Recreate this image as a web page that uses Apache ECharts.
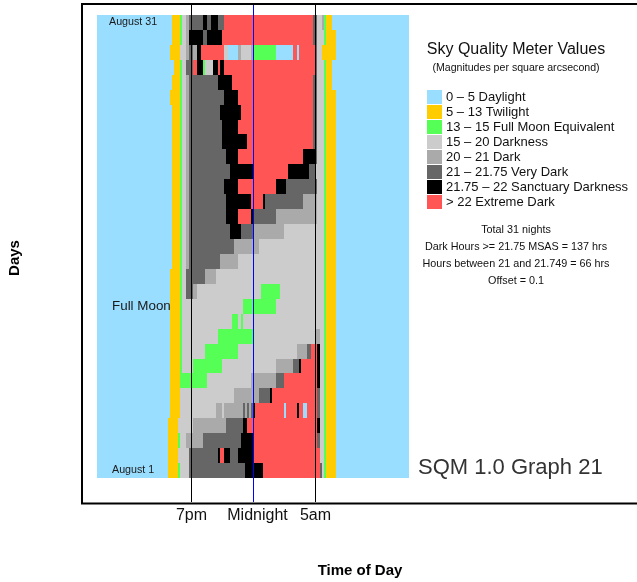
<!DOCTYPE html>
<html><head><meta charset="utf-8">
<script src="https://cdn.jsdelivr.net/npm/echarts@6/dist/echarts.min.js"></script>
<style>html,body{margin:0;padding:0;background:#fff}#c{width:637px;height:582px}</style>
</head><body><div id="c"></div>
<script>
// ---------------- DATA ----------------
// Days, top row first (August 31 at top, August 1 at bottom)
const dayLabels = Array.from({length:31}, (_, i) => 'August ' + (31 - i));
// SQM categories (code letter -> legend text)
const categoryCodes = ['B','Y','G','L','M','D','K','R'];
const categoryNames = ['0 – 5 Daylight','5 – 13 Twilight','13 – 15 Full Moon Equivalent','15 – 20 Darkness','20 – 21 Dark','21 – 21.75 Very Dark','21.75 – 22 Sanctuary Darkness','> 22 Extreme Dark'];
// time axis: 10-minute bins starting at 11:30 (hours, 24 = midnight)
const timeStart = 11.5;
const timeEnd = 36.5;
const binsPerHour = 6;
// each night: runs "code + end bin" (10-minute bins from 11:30)
const nights = [
 "B36 Y40 G41 L43 M44 D51 K53 D55 K58 D61 R104 D106 L108 M109 G110 Y113 B150",
 "B36 Y40 G41 L43 M44 K51 D53 K60 R104 D106 L109 G110 Y115 B150",
 "B35 Y40 L43 M44 D46 M48 K50 R61 L63 B68 M69 L74 M75 G86 B94 R96 B97 R105 D106 L108 Y115 B150",
 "B37 Y40 G41 L43 D46 R48 K51 G52 L56 K58 R59 K61 R105 D106 L109 G110 Y113 B150",
 "B36 Y40 G41 L43 M44 D58 K65 R104 D106 L109 G110 Y113 B150",
 "B35 Y40 G41 L43 M44 D61 K68 R104 D106 L109 G110 Y115 B150",
 "B36 Y40 G41 L43 M44 D59 K69 R104 D106 L109 G110 Y115 B150",
 "B36 Y40 G41 L43 M44 D60 K68 R104 D106 L109 G110 Y115 B150",
 "B36 Y40 G41 L43 M44 D60 K72 R104 D106 L109 G110 Y115 B150",
 "B36 Y40 G41 L43 M44 D62 K68 R99 K105 D106 L109 G110 Y115 B150",
 "B36 Y40 G41 L43 M44 D64 K75 R92 K102 D105 L109 G110 Y115 B150",
 "B36 Y40 G41 L43 M44 D61 K68 R86 K91 D106 L109 G110 Y115 B150",
 "B36 Y40 G41 L43 M44 D62 K74 R80 K81 D99 M106 L109 G110 Y115 B150",
 "B36 Y40 G41 L43 M44 D62 K68 R74 K75 D86 M106 L109 G110 Y115 B150",
 "B36 Y40 G41 L43 M44 D64 K69 D75 M90 L109 G110 Y115 B150",
 "B36 Y40 G41 L43 M44 D66 M78 L109 G110 Y115 B150",
 "B36 Y40 G41 L43 M44 D59 M68 L109 G110 Y115 B150",
 "B35 Y40 G41 L43 D52 M57 L109 G110 Y115 B150",
 "B35 Y40 G41 L43 D46 M48 L79 G88 L109 G110 Y115 B150",
 "B35 Y40 G41 L70 G86 L109 G110 Y115 B150",
 "B35 Y40 G41 L65 G68 L69 G70 L109 G110 Y115 B150",
 "B35 Y40 G41 L58 G75 L105 M107 L109 G110 Y115 B150",
 "B35 Y40 G41 L52 G68 L96 M101 D103 R106 K107 L109 G110 Y115 B150",
 "B35 Y40 G41 L46 G60 L86 M94 D97 K98 R106 K107 L109 G110 Y115 B150",
 "B35 Y40 G53 L74 M86 D90 R106 K107 L109 G110 Y115 B150",
 "B35 Y40 L66 M78 D83 K84 R106 D107 L109 G110 Y115 B150",
 "B35 Y40 L57 M60 L61 M70 D71 M72 D73 M74 D75 K76 R90 B91 R96 K97 R99 B101 R106 D107 L109 G110 Y115 B150",
 "B34 Y39 L46 M62 D70 K72 R106 K107 L109 G110 Y115 B150",
 "B34 Y39 G40 L43 M51 D69 K75 R106 D107 L109 G110 Y115 B150",
 "B34 Y39 L44 D58 K59 R61 K64 D68 K75 R107 L109 G110 Y115 B150",
 "B34 Y39 G40 L44 D71 K80 R107 D108 L109 G110 Y115 B150"
];
const tickHours = [19, 24, 29];
const tickLabels = ['7pm', 'Midnight', '5am'];
const rowNotes = [['August 31', 0], ['Full Moon', 19], ['August 1', 30]];
const statsLines = ['Total 31 nights', 'Dark Hours >= 21.75 MSAS = 137 hrs', 'Hours between 21 and 21.749 = 66 hrs', 'Offset = 0.1'];
const chartTitle = 'SQM 1.0 Graph 21';
const legendTitle = 'Sky Quality Meter Values';
const legendSubtitle = '(Magnitudes per square arcsecond)';

// ---------------- STYLE ----------------
const palette = ['#99DDFF','#FFCC00','#55FF55','#CCCCCC','#AAAAAA','#666666','#000000','#FF5555'];
const FONT = '"Liberation Sans", Arial, Helvetica, sans-serif';

// build segments
const segs = [];
nights.forEach((row, r) => {
  let prev = 0;
  row.trim().split(/\s+/).forEach(tok => {
    const code = categoryCodes.indexOf(tok[0]);
    const end = +tok.slice(1);
    segs.push([timeStart + prev / binsPerHour, timeStart + end / binsPerHour, r, code]);
    prev = end;
  });
});

function renderItem(params, api) {
  const a = api.coord([api.value(0), api.value(2)]);
  const b = api.coord([api.value(1), api.value(2)]);
  const h = api.size([0, 1])[1];
  const x0 = Math.round(a[0]), x1 = Math.round(b[0]);
  const y0 = Math.round(a[1] - h / 2), y1 = Math.round(a[1] + h / 2);
  return {type: 'rect', shape: {x: x0, y: y0, width: x1 - x0, height: y1 - y0},
          style: {fill: palette[api.value(3)]}};
}

const chart = echarts.init(document.getElementById('c'), null, {renderer: 'canvas'});
chart.setOption({
  animation: false,
  backgroundColor: '#fff',
  grid: {left: 97, top: 15, width: 312, height: 463},
  xAxis: {type: 'value', min: timeStart, max: timeEnd, show: false},
  yAxis: {type: 'category', data: dayLabels, inverse: true, show: false},
  series: [{type: 'custom', renderItem: renderItem, data: segs, encode: {x: [0, 1], y: 2}, silent: true}]
});

// overlay graphics positioned through the chart's scales
const g = [];
// frame
g.push({type: 'rect', shape: {x: 82, y: 4, width: 600, height: 499.5}, style: {fill: null, stroke: '#000', lineWidth: 2}, z: 10});
tickHours.forEach((h, i) => {
  const px = Math.round(chart.convertToPixel({xAxisIndex: 0}, h)) + 0.5;
  g.push({type: 'line', shape: {x1: px, y1: 5, x2: px, y2: 502}, style: {stroke: h === 24 ? '#0000FF' : '#000', lineWidth: 1}, z: 11});
  g.push({type: 'text', x: px + (h === 24 ? 4 : 0), y: 508, style: {text: tickLabels[i], font: '16px ' + FONT, fill: '#111', align: 'center', verticalAlign: 'top'}, z: 12});
});
rowNotes.forEach(([t, r]) => {
  const py = chart.convertToPixel({yAxisIndex: 0}, dayLabels[r]);
  const big = t === 'Full Moon';
  g.push({type: 'text', x: big ? 112 : (r === 0 ? 109 : 112), y: py, style: {text: t, font: (big ? '13.4px ' : '10.7px ') + FONT, fill: '#1a1a1a', align: 'left', verticalAlign: 'middle'}, z: 12});
});
// legend
g.push({type: 'text', x: 516, y: 50, style: {text: legendTitle, font: '16px ' + FONT, fill: '#111', align: 'center', verticalAlign: 'middle'}, z: 12});
g.push({type: 'text', x: 516, y: 68, style: {text: legendSubtitle, font: '10.6px ' + FONT, fill: '#111', align: 'center', verticalAlign: 'middle'}, z: 12});
categoryNames.forEach((n, i) => {
  g.push({type: 'rect', shape: {x: 427, y: 90 + 15 * i, width: 15, height: 14}, style: {fill: palette[i]}, z: 12});
  g.push({type: 'text', x: 446, y: 97.5 + 15 * i, style: {text: n, font: '13px ' + FONT, fill: '#111', align: 'left', verticalAlign: 'middle'}, z: 12});
});
statsLines.forEach((t, i) => {
  g.push({type: 'text', x: 516, y: 230.5 + 17 * i, style: {text: t, font: '10.8px ' + FONT, fill: '#111', align: 'center', verticalAlign: 'middle'}, z: 12});
});
g.push({type: 'text', x: 418, y: 468, style: {text: chartTitle, font: '22px ' + FONT, fill: '#333', align: 'left', verticalAlign: 'middle'}, z: 12});
g.push({type: 'text', x: 360, y: 571, style: {text: 'Time of Day', font: 'bold 15px ' + FONT, fill: '#000', align: 'center', verticalAlign: 'middle'}, z: 12});
g.push({type: 'text', x: 15, y: 258, rotation: Math.PI / 2, style: {text: 'Days', font: 'bold 15px ' + FONT, fill: '#000', align: 'center', verticalAlign: 'middle'}, z: 12});
chart.setOption({graphic: g});
</script></body></html>
